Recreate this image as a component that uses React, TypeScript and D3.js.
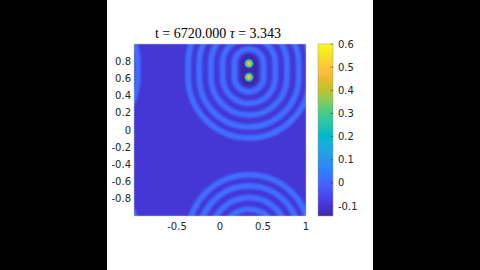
import React from 'react';
import * as d3 from 'd3';

// ---- data ----
const sourceX = [0.337, 0.337];
const sourceY = [0.773, 0.614];
const ringRadii = [0.17, 0.306, 0.442, 0.578, 0.706];
const ringValue = 0.02;
const backgroundValue = -0.095;
const haloValue = -0.143;
const spotProfile = [0.52, 0.38, 0.16, -0.143, -0.143];
const xTicks = [-0.5, 0, 0.5, 1];
const yTicks = [0.8, 0.6, 0.4, 0.2, 0, -0.2, -0.4, -0.6, -0.8];
const cbTicks = [0.6, 0.5, 0.4, 0.3, 0.2, 0.1, 0, -0.1];
const colorDomain = [-0.143, 0.6];
const titleT = '6720.000';
const titleTau = '3.343';

const parula: number[][] = [
  [0.2422, 0.1504, 0.6603], [0.2504, 0.165, 0.7076], [0.2578, 0.1818, 0.7511], [0.2647, 0.1978, 0.7952],
  [0.2706, 0.2147, 0.8364], [0.2751, 0.2342, 0.871], [0.2783, 0.2559, 0.8991], [0.2803, 0.2782, 0.9221],
  [0.2813, 0.3006, 0.9414], [0.281, 0.3228, 0.9579], [0.2795, 0.3447, 0.9717], [0.276, 0.3667, 0.9829],
  [0.2699, 0.3892, 0.9906], [0.2602, 0.4123, 0.9952], [0.244, 0.4358, 0.9988], [0.2206, 0.4603, 0.9973],
  [0.1963, 0.4847, 0.9892], [0.1834, 0.5074, 0.9798], [0.1786, 0.5289, 0.9682], [0.1764, 0.5499, 0.952],
  [0.1687, 0.5703, 0.9359], [0.154, 0.5902, 0.9218], [0.146, 0.6091, 0.9079], [0.138, 0.6276, 0.8973],
  [0.1248, 0.6459, 0.8883], [0.1113, 0.6635, 0.8763], [0.0952, 0.6798, 0.8598], [0.0689, 0.6948, 0.8394],
  [0.0297, 0.7082, 0.8163], [0.0036, 0.7203, 0.7917], [0.0067, 0.7312, 0.766], [0.0433, 0.7411, 0.7394],
  [0.0964, 0.75, 0.712], [0.1408, 0.7584, 0.6842], [0.1717, 0.767, 0.6554], [0.1938, 0.7758, 0.6251],
  [0.2161, 0.7843, 0.5923], [0.247, 0.7918, 0.5567], [0.2906, 0.7973, 0.5188], [0.3406, 0.8008, 0.4789],
  [0.3909, 0.8029, 0.4354], [0.4456, 0.8024, 0.3909], [0.5044, 0.7993, 0.348], [0.5616, 0.7942, 0.3045],
  [0.6174, 0.7876, 0.2612], [0.672, 0.7793, 0.2227], [0.7242, 0.7698, 0.191], [0.7738, 0.7598, 0.1646],
  [0.8203, 0.7498, 0.1535], [0.8634, 0.7406, 0.1596], [0.9035, 0.733, 0.1774], [0.9393, 0.7288, 0.21],
  [0.9728, 0.7298, 0.2394], [0.9956, 0.7434, 0.2371], [0.997, 0.7659, 0.2199], [0.9952, 0.7893, 0.2028],
  [0.9892, 0.8136, 0.1885], [0.9786, 0.8386, 0.1766], [0.9676, 0.8639, 0.1643], [0.961, 0.889, 0.1537],
  [0.9597, 0.9135, 0.1423], [0.9628, 0.9373, 0.1265], [0.9691, 0.9606, 0.1064], [0.9769, 0.9839, 0.0805],
];
const parulaHex = parula.map(([r, g, b]) => d3.rgb(r * 255, g * 255, b * 255).formatHex());

export default function App() {
  const W = 480, H = 270;
  const x = d3.scaleLinear().domain([-1, 1]).range([134, 306]);
  const y = d3.scaleLinear().domain([-1, 1]).range([216, 44]);
  const pxPerUnit = (x(1) - x(-1)) / 2;
  const color = d3.scaleLinear<string>()
    .domain(parulaHex.map((_, i) => colorDomain[0] + (i * (colorDomain[1] - colorDomain[0])) / (parulaHex.length - 1)))
    .range(parulaHex)
    .clamp(true);
  const cb = d3.scaleLinear().domain(colorDomain).range([216, 44]);

  const stadium = (sx: number, yTopData: number, yBotData: number, r: number) => {
    const cx = x(sx);
    const yt = y(yTopData);
    const yb = y(yBotData);
    const rp = r * pxPerUnit;
    return `M${cx + rp},${yt}L${cx + rp},${yb}A${rp},${rp} 0 0 1 ${cx - rp},${yb}L${cx - rp},${yt}A${rp},${rp} 0 0 1 ${cx + rp},${yt}Z`;
  };

  const shifts = [-2, 0, 2];
  const ringPaths: string[] = [];
  for (const dx of shifts)
    for (const dy of shifts)
      for (const r of ringRadii)
        ringPaths.push(stadium(sourceX[0] + dx, Math.max(...sourceY) + dy, Math.min(...sourceY) + dy, r));

  const haloPath = stadium(sourceX[0], Math.max(...sourceY), Math.min(...sourceY), 0.06);

  const tickFont = { fontFamily: 'DejaVu Sans, sans-serif', fontSize: 10, fill: '#262626' };

  return (
    <div style={{ position: 'fixed', left: 0, top: 0 }}>
      <svg width={W} height={H} viewBox={`0 0 ${W} ${H}`} style={{ display: 'block' }}>
        <defs>
          <clipPath id="plotClip">
            <rect x={x(-1)} y={y(1)} width={x(1) - x(-1)} height={y(-1) - y(1)} />
          </clipPath>
          <filter id="soft" x="-10%" y="-10%" width="120%" height="120%">
            <feGaussianBlur stdDeviation={0.9} />
          </filter>
          <radialGradient id="spot">
            {spotProfile.map((v, i) => (
              <stop key={i} offset={i / (spotProfile.length - 1)} stopColor={color(v)} />
            ))}
            <stop offset={1} stopColor={color(haloValue)} stopOpacity={0} />
          </radialGradient>
          <radialGradient id="core">
            {spotProfile.slice(0, 3).map((v, i) => (
              <stop key={i} offset={i / 2} stopColor={color(v)} stopOpacity={i === 2 ? 0 : 1} />
            ))}
          </radialGradient>
          <linearGradient id="cbGrad" x1="0" y1="1" x2="0" y2="0">
            {parulaHex.map((c, i) => (
              <stop key={i} offset={i / (parulaHex.length - 1)} stopColor={c} />
            ))}
          </linearGradient>
        </defs>

        <rect x={0} y={0} width={W} height={H} fill="#000" />
        <rect x={107} y={0} width={266} height={H} fill="#fff" />

        {/* field */}
        <g clipPath="url(#plotClip)">
          <rect x={x(-1)} y={y(1)} width={x(1) - x(-1)} height={y(-1) - y(1)} fill={color(backgroundValue)} />
          <g filter="url(#soft)">
            {ringPaths.map((d, i) => (
              <path key={i} d={d} fill="none" stroke={color(ringValue)} strokeWidth={5.8} />
            ))}
            <path d={haloPath} fill={color(haloValue)} stroke={color(haloValue)} strokeWidth={8} />
          </g>
          {sourceX.map((sx, i) => (
            <circle key={'h' + i} cx={x(sx)} cy={y(sourceY[i])} r={7} fill="url(#spot)" />
          ))}
          {sourceX.map((sx, i) => (
            <circle key={'c' + i} cx={x(sx)} cy={y(sourceY[i])} r={4.5} fill="url(#core)" />
          ))}
        </g>
        <rect x={x(-1)} y={y(1)} width={x(1) - x(-1)} height={y(-1) - y(1)} fill="none" stroke="#c8c8c8" strokeWidth={0.5} />

        {/* axes labels */}
        {xTicks.map((t) => (
          <text key={t} x={x(t)} y={226} textAnchor="middle" dominantBaseline="central" style={tickFont}>
            {String(t)}
          </text>
        ))}
        {yTicks.map((t) => (
          <text key={t} x={131} y={y(t)} textAnchor="end" dominantBaseline="central" style={tickFont}>
            {String(t)}
          </text>
        ))}

        {/* title */}
        <text x={218} y={38} textAnchor="middle" style={{ fontFamily: 'Liberation Serif, serif', fontSize: 14, fill: '#000' }}>
          {`t = ${titleT} `}
          <tspan fontStyle="italic">τ</tspan>
          {` = ${titleTau}`}
        </text>

        {/* colorbar */}
        <rect x={318} y={cb(colorDomain[1])} width={15} height={cb(colorDomain[0]) - cb(colorDomain[1])} fill="url(#cbGrad)" stroke="#9a9a9a" strokeWidth={0.5} />
        {cbTicks.map((t) => (
          <g key={t}>
            <line x1={333} x2={330.5} y1={cb(t)} y2={cb(t)} stroke="#262626" strokeWidth={0.5} />
            <text x={338} y={cb(t)} dominantBaseline="central" style={tickFont}>
              {String(t)}
            </text>
          </g>
        ))}
      </svg>
    </div>
  );
}
